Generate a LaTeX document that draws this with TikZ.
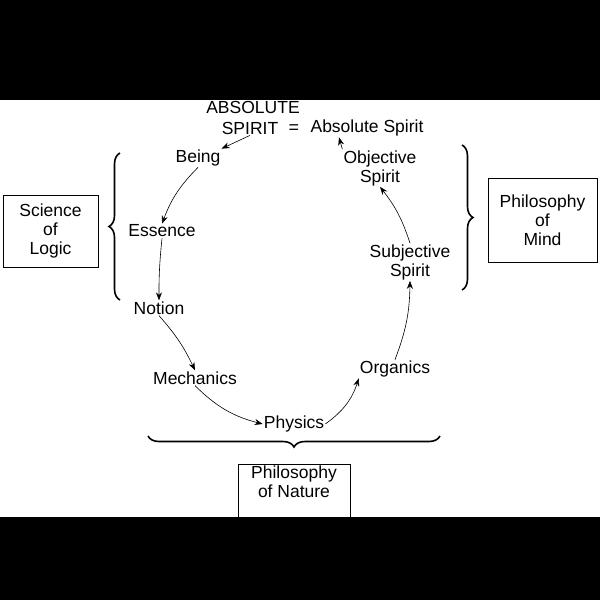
\documentclass[tikz,border=0pt]{standalone}
\usepackage{fontspec}
\setmainfont{Liberation Sans}
\usetikzlibrary{decorations.pathreplacing,arrows.meta}
\begin{document}
\begin{tikzpicture}[x=1pt,y=-1pt,
  lbl/.style={font=\fontsize{17.5}{19}\selectfont,inner sep=1pt,align=center},
  box/.style={lbl,draw,thick,minimum height=72pt},
  arr/.style={-{Stealth[length=8pt,width=6pt]},semithick},
  br/.style={decorate,decoration={brace,amplitude=11pt},line width=1.6pt}]
\fill[black] (0,0) rectangle (600,600);
\fill[white] (0,100) rectangle (600,517);
\useasboundingbox (0,0) rectangle (600,600);
\node[lbl] (abs1) at (253,107) {ABSOLUTE};
\node[lbl] (spirit) at (250,128) {SPIRIT};
\node[lbl,font=\fontsize{18}{18}\selectfont,inner sep=0pt] (eq) at (294,129) {=};
\node[lbl] (absS) at (367,128) {Absolute Spirit};
\node[lbl] (being) at (198,158) {Being};
\node[lbl] (obj) at (380,168) {Objective\\Spirit};
\node[lbl] (ess) at (162,231) {Essence};
\node[lbl] (notion) at (159,308) {Notion};
\node[lbl] (mech) at (195,378) {Mechanics};
\node[lbl] (phys) at (294,424) {Physics};
\node[lbl] (org) at (395,369) {Organics};
\node[lbl] (subj) at (410,262) {Subjective\\Spirit};
\node[box,minimum width=95pt] (logic) at (50.5,231) {Science\\of\\Logic};
\node[box,minimum width=109pt,minimum height=84pt] (mind) at (542.5,220) {Philosophy\\of\\Mind};
\node[lbl,draw,thick,minimum width=112pt,minimum height=60pt,anchor=north] (nature) at (294,464) {Philosophy\\of Nature\\[6pt]};
\draw[arr] (spirit.south) -- (being.north east);
\draw[arr] (being.south) to[bend right=12] (ess.north);
\draw[arr] (ess.south) to[bend right=3] (notion.north);
\draw[arr] (notion.south) to[bend left=8] (mech.north);
\draw[arr] (mech.south) to[bend right=15] (phys.west);
\draw[arr] (phys.east) to[bend right=18] (org.south west);
\draw[arr] (org.north) to[bend right=10] (subj.south);
\draw[arr] (subj.north) to[bend right=10] (obj.south);
\coordinate (as) at ([xshift=-28pt]absS.south);
\draw[arr] (obj.north west) -- (as);
\draw[br] (120,300) -- (120,153);
\draw[br] (462,145) -- (462,290);
\draw[br] (440,436) -- (148,436);
\end{tikzpicture}
\end{document}
